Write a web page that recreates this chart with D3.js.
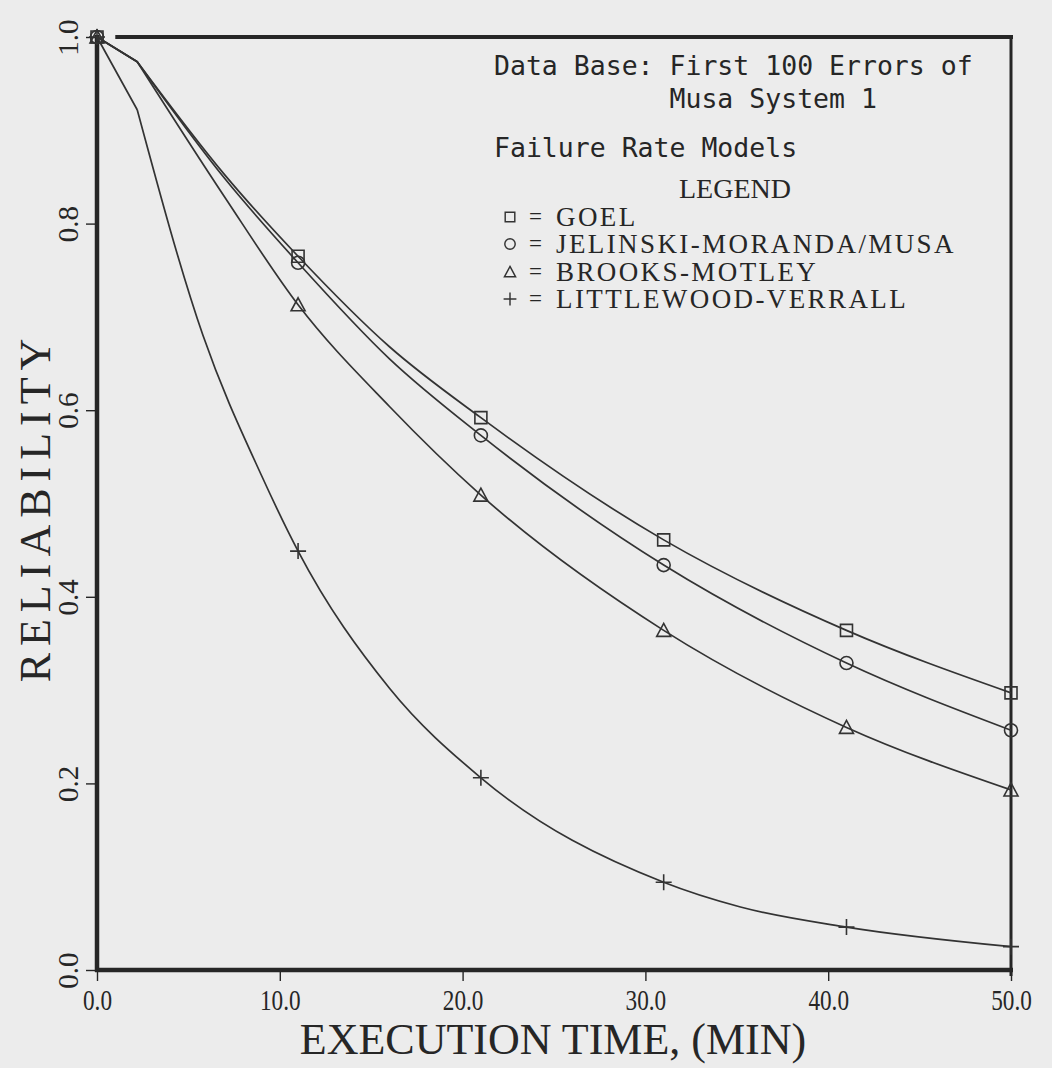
<!DOCTYPE html>
<html>
<head>
<meta charset="utf-8">
<script src="https://cdn.jsdelivr.net/npm/d3@7"></script>
<style>
  body { margin: 0; background: #ececec; }
</style>
</head>
<body>
<div id="chart"></div>
<script>
// execution times where the model symbols sit
const markerTimes = [0, 11, 21, 31, 41, 50];
const goelMarks = [1.0, 0.765, 0.592, 0.461, 0.364, 0.297];
const jmMarks   = [1.0, 0.758, 0.573, 0.434, 0.329, 0.257];
const bmMarks   = [1.0, 0.713, 0.509, 0.364, 0.260, 0.193];
const lvMarks   = [1.0, 0.449, 0.206, 0.094, 0.046, 0.025];

// points (the first bend is at t = 2.2)
const upperTimes = [0, 2.2, 7, 11, 16, 21, 31, 41, 50];
const goelCurve = [1.0, 0.9735, 0.852, 0.765, 0.668, 0.592, 0.461, 0.364, 0.297];
const jmCurve   = [1.0, 0.9735, 0.848, 0.758, 0.655, 0.573, 0.434, 0.329, 0.257];
const bmCurve   = [1.0, 0.9735, 0.828, 0.713, 0.604, 0.509, 0.364, 0.260, 0.193];
const lvTimes = [0, 2.2, 5.8, 9, 11, 16, 21, 31, 35.2, 41, 50];
const lvCurve = [1.0, 0.922, 0.680, 0.530, 0.449, 0.302, 0.206, 0.094, 0.0675, 0.046, 0.025];

const xTicks = [0, 10, 20, 30, 40, 50];
const yTicks = [0, 0.2, 0.4, 0.6, 0.8, 1.0];
const legendNames = ["GOEL", "JELINSKI-MORANDA/MUSA", "BROOKS-MOTLEY", "LITTLEWOOD-VERRALL"];
const noteLines = ["Data Base: First 100 Errors of", "           Musa System 1", "Failure Rate Models"];

const ink = "#262626";
const serif = "'Liberation Serif', 'DejaVu Serif', serif";
const mono = "'DejaVu Sans Mono', 'Liberation Mono', monospace";

const symbols = {
    square: "M-6,-6h12v12h-12z",
    circle: "M6.5,0A6.5,6.5 0 1,1 -6.5,0A6.5,6.5 0 1,1 6.5,0",
    triangle: "M0,-7L7,6H-7Z",
    plus: "M-8,0H8M0,-8V8"
};

const series = [
    {t: upperTimes, r: goelCurve, marks: goelMarks, sym: "square"},
    {t: upperTimes, r: jmCurve,   marks: jmMarks,   sym: "circle"},
    {t: upperTimes, r: bmCurve,   marks: bmMarks,   sym: "triangle"},
    {t: lvTimes,    r: lvCurve,   marks: lvMarks,   sym: "plus"}
];

let svg = d3.select("#chart")
            .append("svg")
            .attr("width", 1052)
            .attr("height", 1068)

svg.append("rect")
   .attr("width", 1052)
   .attr("height", 1068)
   .attr("fill", "#ececec")

let x = d3.scaleLinear().domain([0, 50]).range([97, 1011]);
let y = d3.scaleLinear().domain([0, 1]).range([970, 37]);

// axes
let xAxis = svg.append("g")
               .attr("transform", "translate(0,970)")
               .call(d3.axisBottom(x).tickValues(xTicks).tickFormat(d3.format(".1f"))
                       .tickSize(11).tickPadding(8))
xAxis.select(".domain").remove();
xAxis.selectAll("line").attr("stroke", ink).attr("stroke-width", 1.4);
xAxis.selectAll("text")
     .attr("fill", ink)
     .style("font-family", serif)
     .style("font-size", "29px")
     .attr("transform", "scale(0.8,1)")

let yAxis = svg.append("g")
               .attr("transform", "translate(97,0)")
               .call(d3.axisLeft(y).tickValues(yTicks).tickFormat(d3.format(".1f")).tickSize(11))
yAxis.select(".domain").remove();
yAxis.selectAll("line").attr("stroke", ink).attr("stroke-width", 1.4);
yAxis.selectAll("text")
     .attr("fill", ink)
     .attr("x", 0)
     .attr("y", -19)
     .attr("dy", 0)
     .attr("transform", "rotate(-90)")
     .style("text-anchor", "middle")
     .style("font-family", serif)
     .style("font-size", "29px")

// frame
svg.append("line").attr("x1", 97).attr("x2", 97).attr("y1", 35).attr("y2", 972)
   .attr("stroke", ink).attr("stroke-width", 4.5)
svg.append("line").attr("x1", 95).attr("x2", 1013).attr("y1", 970).attr("y2", 970)
   .attr("stroke", ink).attr("stroke-width", 4.5)
svg.append("line").attr("x1", x(1)).attr("x2", 1013).attr("y1", 37).attr("y2", 37)
   .attr("stroke", ink).attr("stroke-width", 4)
svg.append("line").attr("x1", 1011).attr("x2", 1011).attr("y1", 37).attr("y2", 976)
   .attr("stroke", ink).attr("stroke-width", 3)

// curves: straight first step, smooth afterwards
let head = d3.line().x(d => x(d[0])).y(d => y(d[1]));
let tail = d3.line().x(d => x(d[0])).y(d => y(d[1])).curve(d3.curveMonotoneX);

series.forEach(s => {
    let pts = s.t.map((t, i) => [t, s.r[i]]);
    svg.append("path")
       .attr("d", head(pts.slice(0, 2)) + tail(pts.slice(1)))
       .attr("fill", "none")
       .attr("stroke", "#333")
       .attr("stroke-width", 1.7)

    svg.selectAll(null)
       .data(markerTimes.map((t, i) => [t, s.marks[i]]))
       .enter().append("path")
       .attr("transform", d => "translate(" + x(d[0]) + "," + y(d[1]) + ")")
       .attr("d", symbols[s.sym])
       .attr("fill", "none")
       .attr("stroke", "#333")
       .attr("stroke-width", 1.6)
});

// notes in the upper right
let noteY = [75, 108, 157];
noteLines.forEach((txt, i) => {
    svg.append("text")
       .attr("x", 494)
       .attr("y", noteY[i])
       .attr("fill", ink)
       .style("font-family", mono)
       .style("font-size", "26.5px")
       .style("white-space", "pre")
       .attr("xml:space", "preserve")
       .text(txt)
});

svg.append("text")
   .attr("x", 735)
   .attr("y", 198)
   .attr("text-anchor", "middle")
   .attr("fill", ink)
   .style("font-family", serif)
   .style("font-size", "28px")
   .text("LEGEND")

let legendY = [226, 253, 281, 308];
legendNames.forEach((name, i) => {
    let sym = series[i].sym;
    svg.append("path")
       .attr("transform", "translate(510," + (legendY[i] - 9) + ") scale(0.8)")
       .attr("d", symbols[sym])
       .attr("fill", "none")
       .attr("stroke", "#333")
       .attr("stroke-width", 1.8)
    svg.append("text")
       .attr("x", 529)
       .attr("y", legendY[i] - 2)
       .attr("fill", ink)
       .style("font-family", serif)
       .style("font-size", "23px")
       .text("=")
    svg.append("text")
       .attr("x", 556)
       .attr("y", legendY[i])
       .attr("fill", ink)
       .style("font-family", serif)
       .style("font-size", "27px")
       .style("letter-spacing", "2.4px")
       .text(name)
});

// axis titles
svg.append("text")
   .attr("transform", "translate(553,1054)")
   .attr("text-anchor", "middle")
   .attr("fill", ink)
   .style("font-family", serif)
   .style("font-size", "44px")
   .text("EXECUTION TIME, (MIN)")

svg.append("text")
   .attr("transform", "translate(50,507) rotate(-90)")
   .attr("text-anchor", "middle")
   .attr("fill", ink)
   .style("font-family", serif)
   .style("font-size", "44px")
   .style("letter-spacing", "7px")
   .text("RELIABILITY")
</script>
</body>
</html>
